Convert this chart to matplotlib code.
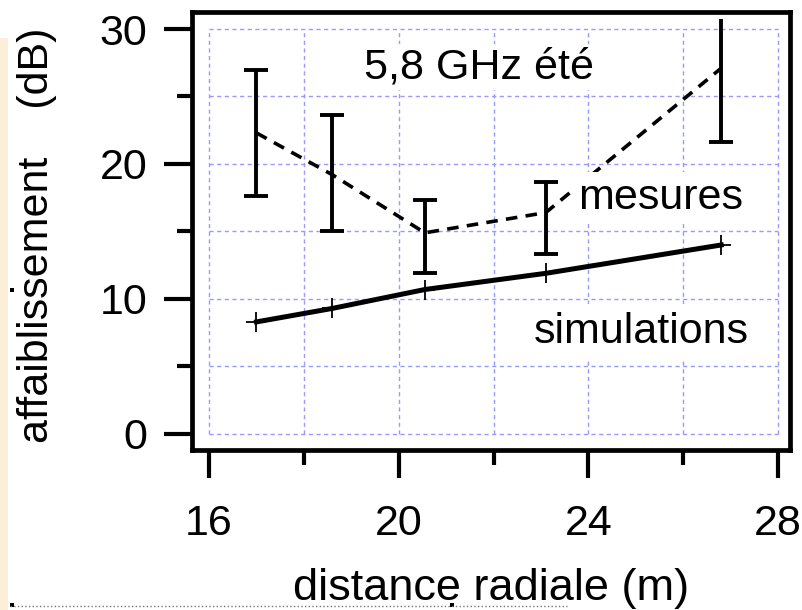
import matplotlib
matplotlib.use("Agg")
import matplotlib.pyplot as plt
from matplotlib.patches import Rectangle
from matplotlib.lines import Line2D

# measured attenuation with error bars (dashed), simulation (solid)
mes_x = [17.0, 18.6, 20.55, 23.1, 26.8]
mes_y = [22.3, 19.2, 14.9, 16.4, 27.1]
mes_lo = [17.6, 15.0, 11.9, 13.3, 21.6]
mes_hi = [27.0, 23.6, 17.3, 18.7, 33.0]

sim_x = [17.0, 18.6, 20.55, 23.1, 26.8]
sim_y = [8.3, 9.3, 10.7, 11.9, 14.0]

x_major = [16, 20, 24, 28]
x_minor = [18, 22, 26]
y_major = [0, 10, 20, 30]
y_minor = [5, 15, 25]

plt.rcParams['font.family'] = ['Liberation Sans', 'DejaVu Sans']
fs = 31

fig = plt.figure(figsize=(8.02, 6.10), dpi=100)
ax = fig.add_axes([192 / 802, 1 - 450 / 610, 598 / 802, 438 / 610])
ax.set_xlim(15.64, 28.25)
ax.set_ylim(-1.19, 31.26)

# grid only over the data range, like the original
grid_x = sorted(x_major + x_minor)
grid_y = sorted(y_major + y_minor)
gv = ax.vlines(grid_x, min(y_major), max(y_major), colors='#9999ff', linewidth=1.0,
               linestyles=(0, (3, 2.5)), zorder=1)
gh = ax.hlines(grid_y, min(x_major), max(x_major), colors='#9999ff', linewidth=1.0,
               linestyles=(0, (3, 2.5)), zorder=1)
gv.set_snap(True)
gh.set_snap(True)

# simulations
ax.plot(sim_x, sim_y, color='black', linewidth=3.6, marker='+', markersize=15,
        markeredgewidth=1.3, zorder=3)

# mesures
yerr = [[y - lo for y, lo in zip(mes_y, mes_lo)], [hi - y for y, hi in zip(mes_y, mes_hi)]]
ax.plot(mes_x, mes_y, color='black', linewidth=2.6, linestyle=(0, (3.2, 2.3)), zorder=3)
eb = ax.errorbar(mes_x, mes_y, yerr=yerr, fmt='none', ecolor='black', elinewidth=2.8,
                 capsize=8.5, capthick=2.8, zorder=4)
clip = Rectangle((15.64, -1.19), 12.61, 31.95, transform=ax.transData)
for art in eb.lines[1] + eb.lines[2]:
    art.set_clip_path(clip)

ax.text(21.69, 26.37, "5,8 GHz été", fontsize=fs, ha='center', va='baseline',
        bbox=dict(facecolor='white', edgecolor='none', pad=2), zorder=5)
ax.text(25.53, 16.67, "mesures", fontsize=fs, ha='center', va='baseline',
        bbox=dict(facecolor='white', edgecolor='none', pad=4), zorder=5)
ax.text(25.12, 6.74, "simulations", fontsize=fs, ha='center', va='baseline',
        bbox=dict(facecolor='white', edgecolor='none', pad=6), zorder=5)

# frame and ticks
for sp in ax.spines.values():
    sp.set_linewidth(3.4)
ax.set_xticks(x_major)
ax.set_xticks(x_minor, minor=True)
ax.set_yticks(y_major)
ax.set_yticks(y_minor, minor=True)
ax.tick_params(which='major', direction='out', length=20, width=3, labelsize=fs)
ax.tick_params(which='minor', direction='out', length=11, width=3)
ax.tick_params(axis='x', which='major', pad=19)
ax.tick_params(axis='y', which='major', pad=12)

ax.set_xlabel("distance radiale (m)", fontsize=32.5)
ax.xaxis.set_label_coords(0.5, -0.27)
ax.set_ylabel("affaiblissement    (dB)", fontsize=fs)
ax.yaxis.set_label_coords(-0.225, 0.49)

# slide background leftovers at the edges
fig.patches.append(Rectangle((0, 0), 8 / 802, 1 - 38 / 610, transform=fig.transFigure,
                             facecolor='#fcefd9', edgecolor='none', zorder=0))
fig.add_artist(Line2D([10 / 802, 567 / 802], [4 / 610, 4 / 610], color='#777777',
                      linewidth=1, linestyle=':'))
for px, py in [(12, 290), (12, 605), (452, 605)]:
    fig.add_artist(Rectangle(((px - 2) / 802, 1 - (py + 2) / 610), 4 / 802, 4 / 610,
                             transform=fig.transFigure, facecolor='black', edgecolor='none'))

fig.savefig("out.png", dpi=100)
